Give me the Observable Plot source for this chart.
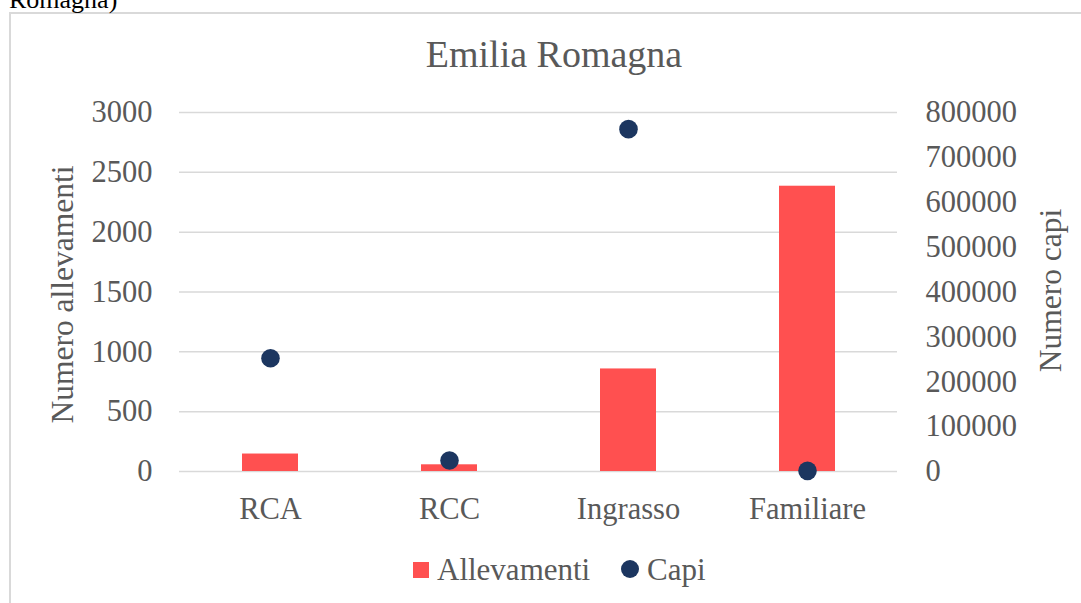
<!DOCTYPE html>
<html>
<head>
<meta charset="utf-8">
<script src="https://cdn.jsdelivr.net/npm/d3@7"></script>
<script src="https://cdn.jsdelivr.net/npm/@observablehq/plot@0.6"></script>
<style>
  html, body { margin: 0; padding: 0; background: #fff; }
  body { width: 1081px; height: 603px; overflow: hidden; position: relative; font-family: "Liberation Serif", "Times New Roman", serif; color: #595959; }
  .abs { position: absolute; white-space: nowrap; line-height: 1; }
  #box { position: absolute; left: 9px; top: 12px; width: 1120px; height: 640px; border: 2px solid #d9d9d9; box-sizing: border-box; }
  #pre { left: 9px; top: -13px; font-size: 26px; color: #000; }
  #title { left: 554px; top: 35px; font-size: 38px; transform: translateX(-50%); }
  #chart { position: absolute; left: 0; top: 0; }
  .sw { position: absolute; }
  .lt { font-size: 31px; top: 554px; }
</style>
</head>
<body>
<div id="box"></div>
<div id="pre" class="abs">Romagna)</div>
<div id="title" class="abs">Emilia Romagna</div>
<div id="chart"></div>
<div id="legend"></div>
<script>
// ---- data ----
const categories = ["RCA", "RCC", "Ingrasso", "Familiare"];
const allevamenti = [146, 56, 857, 2384];
const capi = [252300, 24600, 762900, 1500];
const leftTicks = [0, 500, 1000, 1500, 2000, 2500, 3000];
const rightTicks = [0, 100000, 200000, 300000, 400000, 500000, 600000, 700000, 800000];
const seriesNames = ["Allevamenti", "Capi"];
const seriesColors = ["#FF5050", "#1c3660"];
const axisTitles = ["Numero allevamenti", "Numero capi"];

const leftMax = 3000, rightMax = 800000;
const ratio = leftMax / rightMax;
const table = categories.map((c, i) => ({cat: c, allev: allevamenti[i], capi: capi[i]}));

const chart = Plot.plot({
  width: 1081,
  height: 530,
  marginTop: 112,
  marginBottom: 59,
  marginLeft: 179,
  marginRight: 184,
  style: {fontFamily: "Liberation Serif, Times New Roman, serif", fontSize: "30.5px", color: "#595959", background: "transparent", overflow: "visible"},
  x: {type: "band", domain: categories, paddingInner: 0.688, paddingOuter: 0.344, axis: null},
  y: {domain: [0, leftMax], axis: null},
  marks: [
    Plot.gridY(leftTicks, {stroke: "#d9d9d9", strokeOpacity: 1, strokeWidth: 1.5}),
    Plot.barY(table, {x: "cat", y: "allev", fill: seriesColors[0]}),
    Plot.dot(table, {x: "cat", y: d => d.capi * ratio, r: 9.3, fill: seriesColors[1], stroke: "none"}),
    Plot.axisY(leftTicks, {anchor: "left", tickSize: 0, tickPadding: 27, label: null, tickFormat: d => String(d)}),
    Plot.axisY(rightTicks.map(v => v * ratio), {anchor: "right", tickSize: 0, tickPadding: 28, label: null, tickFormat: d => String(Math.round(d / ratio))}),
    Plot.axisX({tickSize: 0, tickPadding: 26, label: null}),
    Plot.text([axisTitles[0]], {text: d => d, frameAnchor: "left", textAnchor: "middle", dx: -117, dy: 2.5, rotate: -90, fontSize: 31.5}),
    Plot.text([axisTitles[1]], {text: d => d, frameAnchor: "right", textAnchor: "middle", dx: 153, dy: -1.5, rotate: -90, fontSize: 31.5})
  ]
});
document.getElementById("chart").appendChild(chart);

// legend
const lg = document.getElementById("legend");
lg.innerHTML = `
  <div class="sw" style="left:413px;top:562px;width:16px;height:16px;background:${seriesColors[0]}"></div>
  <div class="abs lt" style="left:437px">${seriesNames[0]}</div>
  <div class="sw" style="left:621px;top:560px;width:18px;height:18px;border-radius:50%;background:${seriesColors[1]}"></div>
  <div class="abs lt" style="left:647px">${seriesNames[1]}</div>`;
</script>
</body>
</html>
